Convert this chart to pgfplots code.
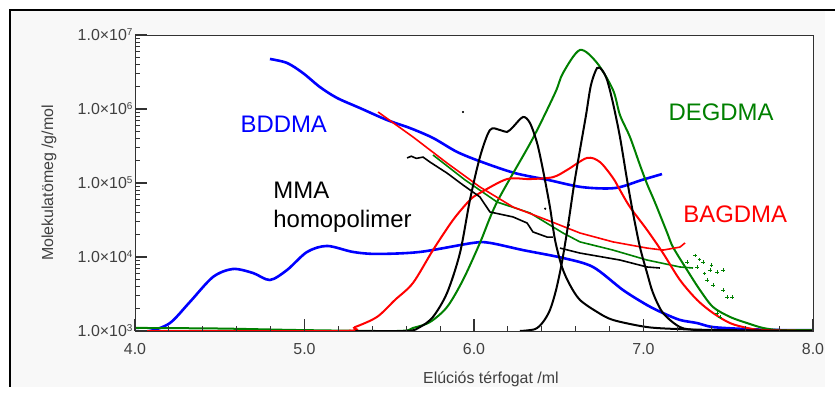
\documentclass[border=0pt]{standalone}
\usepackage{pgfplots}
\pgfplotsset{compat=1.18}
\usepackage{fontspec}
\setmainfont{Liberation Sans}
\definecolor{dgreen}{RGB}{0,128,0}
\definecolor{bgc}{RGB}{248,248,248}
\definecolor{axc}{RGB}{50,50,50}
\newcommand\myticklab[1]{1.0×10\raisebox{5bp}{\fontsize{10}{10}\selectfont #1}}
\begin{document}
\begin{tikzpicture}
\path[use as bounding box] (0,0) rectangle (835bp,394bp);
\fill[bgc] (10bp,7bp) rectangle (825bp,384bp);
\fill[white] (135bp,63bp) rectangle (813bp,359bp);
\draw[line width=2bp] (10bp,7bp) -- (10bp,384bp) -- (835bp,384bp);
\begin{axis}[
 at={(135bp,63bp)}, anchor=south west,
 scale only axis, width=678bp, height=296bp,
 xmin=4, xmax=8, ymode=log, ymin=1e3, ymax=1e7,
 axis line style={axc, line width=0.9bp},
 xtick={4,5,6,7,8}, xticklabels={4.0,5.0,6.0,7.0,8.0},
 ytick={1e3,1e4,1e5,1e6,1e7},
 yticklabels={\myticklab{3},\myticklab{4},\myticklab{5},\myticklab{6},\myticklab{7}},
 tick align=inside, xtick pos=left, ytick pos=left,
 major tick length=12bp, minor tick length=5bp,
 tick style={draw=axc, line width=1.1bp},
 tick label style={font=\fontsize{16}{18}\selectfont, text=black!75},
 xticklabel style={yshift=-9bp},
 yticklabel style={xshift=1bp},
 label style={font=\fontsize{16}{18}\selectfont, text=black!75},
 xlabel={Elúciós térfogat /ml},
 ylabel={Molekulatömeg /g/mol},
 xlabel style={at={(axis description cs:0.525,-0.176)}, anchor=base},
 ylabel style={at={(axis description cs:-0.127,0.5)}, anchor=center},
]
% BDDMA distribution
\addplot[blue, line width=2.6bp, smooth, tension=0.5] coordinates {
(4.0,1000) (4.088,1000) (4.206,1280) (4.324,2470) (4.460,5370) (4.578,6890) (4.696,6080) (4.796,4890) (4.897,6670) (5.015,11700) (5.133,14100) (5.286,11700) (5.428,11000) (5.681,11700) (5.994,15500) (6.094,15500) (6.289,12400) (6.525,9700) (6.702,7330) (6.879,3580) (7.021,2240) (7.115,1750) (7.215,1410) (7.316,1280) (7.410,1130) (7.611,1060) (7.805,1030) (8.0,1030)};
% BDDMA molar mass
\addplot[blue, line width=2.6bp, smooth, tension=0.5] coordinates {
(4.796,4740000) (4.897,4190000) (4.991,3060000) (5.091,1980000) (5.192,1410000) (5.327,1030000) (5.487,710000) (5.622,553000) (5.758,406000) (5.900,263000) (6.047,192000) (6.242,136000) (6.437,110000) (6.637,88000) (6.832,85500) (6.991,110000) (7.109,132000)};
% DEGDMA distribution
\addplot[dgreen, line width=2bp, smooth, tension=0.5] coordinates {
(4.0,1100) (4.5,1080) (4.97,1030) (5.546,1000) (5.640,1100) (5.740,1320) (5.841,2110) (5.935,4890) (6.035,15500) (6.136,55300) (6.342,381000) (6.478,1640000) (6.525,3060000) (6.625,6270000) (6.726,4190000) (6.820,1810000) (6.861,830000) (6.920,419000) (6.979,175000) (7.021,97000) (7.068,54400) (7.139,21400) (7.174,13600) (7.257,6670) (7.333,3580) (7.410,2110) (7.510,1550) (7.611,1280) (7.705,1100) (7.805,1030) (8.0,1030)};
% DEGDMA molar mass
\addplot[dgreen, line width=1.6bp] coordinates {
(5.758,239000) (5.947,110000) (6.136,55300) (6.330,39400) (6.525,21100) (6.625,16000) (6.820,12400) (7.021,9100) (7.215,7330) (7.292,7100)};
\addplot[dgreen, only marks, mark=+, mark size=1.6bp, line width=0.8bp] coordinates {
(7.316,7330) (7.351,8550) (7.392,6670) (7.434,6270) (7.469,6670) (7.410,4190) (7.469,3580) (7.493,2880) (7.522,2880) (7.434,1750) (7.451,1550) (7.257,8550) (7.375,4890) (7.304,10600) (7.33,9200) (7.40,7800) (7.36,6000)};
% BAGDMA distribution
\addplot[red, line width=2bp, smooth, tension=0.5] coordinates {
(4.0,1000) (5.209,1000) (5.298,1130) (5.428,1550) (5.534,2630) (5.640,4460) (5.758,12400) (5.876,31600) (5.976,58900) (6.035,73300) (6.195,113000) (6.330,113000) (6.466,120000) (6.549,150000) (6.667,218000) (6.743,192000) (6.820,117000) (6.861,80400) (6.920,47400) (7.021,23200) (7.115,11300) (7.215,4890) (7.316,2630) (7.410,1750) (7.510,1280) (7.611,1100) (7.705,1030) (8.0,1000)};
% BAGDMA molar mass
\addplot[red, line width=1.6bp] coordinates {
(5.434,910000) (5.640,419000) (5.841,186000) (6.035,88300) (6.230,47400) (6.431,31600) (6.625,21100) (6.820,16000) (7.021,13200) (7.115,12400) (7.215,13600) (7.245,15500)};
% MMA homopolymer distributions
\addplot[black, line width=2bp, smooth, tension=0.5] coordinates {
(5.3,1000) (5.605,1000) (5.681,1130) (5.758,1550) (5.841,3270) (5.917,11300) (5.976,58900) (6.035,224000) (6.094,520000) (6.153,520000) (6.195,489000) (6.230,571000) (6.289,780000) (6.330,647000) (6.372,348000) (6.407,150000) (6.448,47400) (6.478,17000) (6.519,7330) (6.566,4190) (6.625,2630) (6.726,1810) (6.820,1410) (7.021,1130) (7.215,1060) (7.451,1030) (8.0,1000)};
\addplot[black, line width=2bp, smooth, tension=0.5] coordinates {
(6.271,1000) (6.360,1060) (6.407,1320) (6.448,1920) (6.484,3580) (6.519,8550) (6.555,27000) (6.590,94000) (6.625,279000) (6.661,830000) (6.690,2110000) (6.726,3580000) (6.755,3360000) (6.785,2470000) (6.820,1200000) (6.861,419000) (6.903,110000) (6.938,39400) (6.979,13600) (7.021,6080) (7.056,3270) (7.115,1750) (7.215,1130) (7.316,1030) (7.5,1000)};
% MMA molar mass
\addplot[black, line width=1.6bp] coordinates {
(5.605,218000) (5.63,230000) (5.66,215000) (5.699,224000) (5.740,192000) (5.841,136000) (5.935,94000) (6.035,64700) (6.094,40600) (6.230,34800) (6.313,28800) (6.348,21800) (6.431,18600) (6.466,18600)};
\addplot[black, line width=1.6bp] coordinates {
(6.507,13200) (6.625,11300) (6.861,9100) (7.021,7330) (7.097,7100)};
\addplot[black, only marks, mark=*, mark size=0.9bp] coordinates {(5.935,910000) (6.42,45000) (6.56,27000)};
% tick marks
\pgfplotsinvokeforeach{4,5,6,7,8}{\draw[axc, line width=1.1bp] (axis cs:#1,1000) -- ++(0bp,12bp);}
\pgfplotsinvokeforeach{4.2,4.4,4.6,4.8,5.2,5.4,5.6,5.8,6.2,6.4,6.6,6.8,7.2,7.4,7.6,7.8}{\draw[axc, line width=1bp] (axis cs:#1,1000) -- ++(0bp,5bp);}
\pgfplotsinvokeforeach{1e3,1e4,1e5,1e6,1e7}{\draw[axc, line width=1.1bp] (axis cs:4,#1) -- ++(12bp,0bp);}
\pgfplotsinvokeforeach{2e3,3e3,4e3,5e3,6e3,7e3,8e3,9e3,2e4,3e4,4e4,5e4,6e4,7e4,8e4,9e4,2e5,3e5,4e5,5e5,6e5,7e5,8e5,9e5,2e6,3e6,4e6,5e6,6e6,7e6,8e6,9e6}{\draw[axc, line width=1bp] (axis cs:4,#1) -- ++(5bp,0bp);}
% labels
\node[anchor=base west, text=blue, font=\fontsize{24}{28}\selectfont] at (axis cs:4.602,474000) {BDDMA};
\node[anchor=base west, text=black, font=\fontsize{24}{28}\selectfont] at (axis cs:4.796,60800) {MMA};
\node[anchor=base west, text=black, font=\fontsize{24}{28}\selectfont] at (axis cs:4.796,25400) {homopolimer};
\node[anchor=base west, text=dgreen, font=\fontsize{24}{28}\selectfont] at (axis cs:7.127,689000) {DEGDMA};
\node[anchor=base west, text=red, font=\fontsize{24}{28}\selectfont] at (axis cs:7.215,29700) {BAGDMA};
\end{axis}
\end{tikzpicture}
\end{document}
